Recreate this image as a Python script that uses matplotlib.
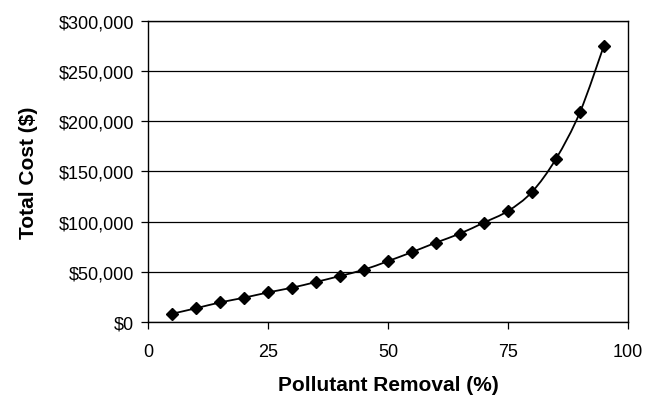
"""Total cost vs pollutant removal, smooth line with diamond markers."""
import matplotlib

matplotlib.use("Agg")
import matplotlib.pyplot as plt
import numpy as np
from matplotlib.path import Path
from matplotlib.patches import PathPatch
from matplotlib.ticker import FuncFormatter

removal = [5, 10, 15, 20, 25, 30, 35, 40, 45, 50, 55, 60, 65, 70, 75, 80, 85, 90, 95]
cost = [8000, 13500, 19300, 24000, 29300, 34000, 39700, 45700, 52000, 60500,
        69500, 79000, 88000, 99000, 110500, 129500, 162500, 209000, 275500]

x_ticks = [0, 25, 50, 75, 100]
y_ticks = [0, 50000, 100000, 150000, 200000, 250000, 300000]

plt.rcParams["font.family"] = ["Liberation Sans", "DejaVu Sans"]

fig = plt.figure(figsize=(6.46, 4.02), dpi=100)
ax = fig.add_axes([0.229, 0.197, 0.743, 0.748])

# smooth curve through the points (Catmull-Rom as cubic Bezier segments)
pts = np.column_stack([removal, cost]).astype(float)
verts = [tuple(pts[0])]
codes = [Path.MOVETO]
n = len(pts)
for i in range(n - 1):
    p0 = pts[max(i - 1, 0)]
    p1 = pts[i]
    p2 = pts[i + 1]
    p3 = pts[min(i + 2, n - 1)]
    c1 = p1 + (p2 - p0) / 6
    c2 = p2 - (p3 - p1) / 6
    verts += [tuple(c1), tuple(c2), tuple(p2)]
    codes += [Path.CURVE4] * 3
ax.add_patch(PathPatch(Path(verts, codes), fill=False, edgecolor="black", lw=1.3, zorder=3))
ax.plot(removal, cost, linestyle="none", marker="D", markersize=6,
        color="black", zorder=4)

ax.set_xlim(0, 100)
ax.set_ylim(0, 300000)
ax.set_xticks(x_ticks)
ax.set_yticks(y_ticks)
ax.yaxis.set_major_formatter(FuncFormatter(lambda v, p: f"${v:,.0f}"))
ax.yaxis.grid(True, color="black", lw=0.9)
ax.set_axisbelow(True)
for s in ax.spines.values():
    s.set_linewidth(1.0)
ax.tick_params(axis="both", direction="out", length=5, width=0.9,
               labelsize=13, pad=5)
ax.tick_params(axis="x", pad=10)

ax.set_xlabel("Pollutant Removal (%)", fontsize=15, fontweight="bold", labelpad=11)
ax.set_ylabel("Total Cost ($)", fontsize=15, fontweight="bold", labelpad=15)

fig.savefig("out.png", dpi=100)
